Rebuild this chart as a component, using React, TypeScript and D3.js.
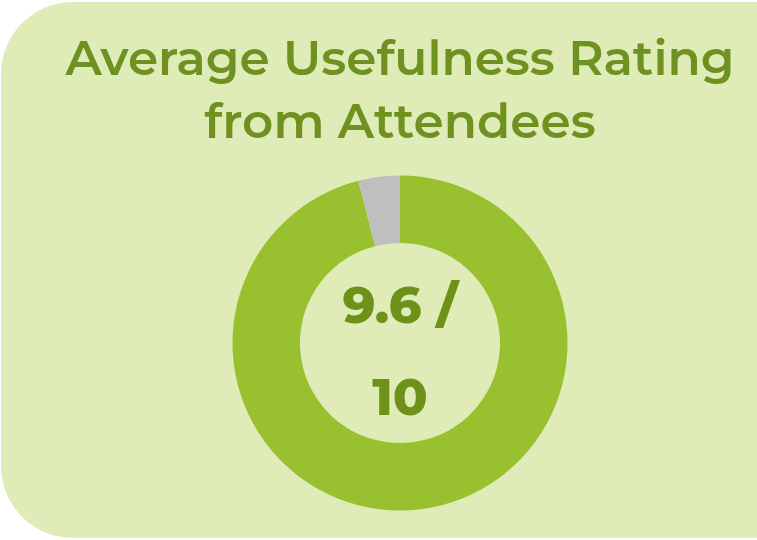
import React, { useEffect, useRef } from 'react';
import * as d3 from 'd3';

const title = ['Average Usefulness Rating', 'from Attendees'];
const categories = ['Rating', 'Remaining'];
const values = [9.6, 0.4];
const colors = ['#99C12F', '#BFBFBF'];
const centerLabel = ['9.6 /', '10'];

const App = () => {
    const ref = useRef<SVGSVGElement | null>(null);

    useEffect(() => {
        if (!ref.current) return;
        const svg = d3.select(ref.current);
        svg.selectAll('*').remove();

        const width = 757, height = 540;
        const cx = 400, cy = 343;

        // background card, runs off the right edge
        svg.append('rect')
            .attr('x', 1).attr('y', 2)
            .attr('width', 830).attr('height', 536)
            .attr('rx', 72).attr('ry', 72)
            .attr('fill', '#DFECB8');

        svg.append('g')
            .selectAll('text')
            .data(title)
            .enter().append('text')
            .attr('x', cx)
            .attr('y', (d, i) => 75 + i * 63)
            .attr('text-anchor', 'middle')
            .style('font-family', 'Montserrat, "Open Sans", sans-serif')
            .style('font-weight', 600)
            .style('font-size', '48.5px')
            .style('fill', '#6F9120')
            .text(d => d);

        // clockwise from 12 o'clock, remainder ends up just left of the top
        const pie = d3.pie<number>().sort(null);
        const arc = d3.arc<d3.PieArcDatum<number>>()
            .innerRadius(100).outerRadius(167.5);

        const g = svg.append('g').attr('transform', `translate(${cx},${cy})`);
        g.selectAll('path')
            .data(pie(values))
            .enter().append('path')
            .attr('d', arc)
            .attr('fill', (d, i) => colors[i])
            .attr('data-name', (d, i) => categories[i]);

        g.selectAll('text')
            .data(centerLabel)
            .enter().append('text')
            .attr('x', 0)
            .attr('y', (d, i) => -20 + i * 92)
            .attr('text-anchor', 'middle')
            .style('font-family', 'Montserrat, "Open Sans", sans-serif')
            .style('font-weight', 800)
            .style('font-size', '51px')
            .style('fill', '#6E911A')
            .text(d => d);

        svg.attr('width', width).attr('height', height);
    }, []);

    return <svg ref={ref} style={{ position: 'absolute', left: 0, top: 0, display: 'block' }} />;
};

export default App;
